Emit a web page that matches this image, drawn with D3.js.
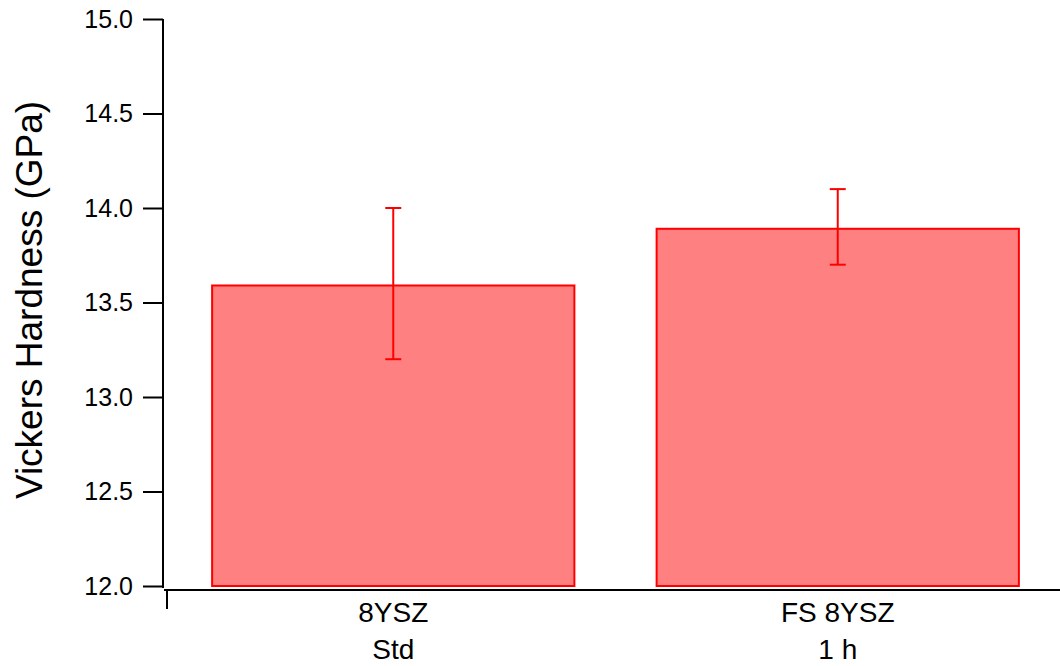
<!DOCTYPE html>
<html>
<head>
<meta charset="utf-8">
<script src="https://cdn.jsdelivr.net/npm/d3@7"></script>
<style>
  html, body { margin: 0; padding: 0; background: #fff; }
  svg { display: block; font-family: "Liberation Sans", Arial, sans-serif; }
</style>
</head>
<body>
<svg id="chart" width="1060" height="666"></svg>
<script>
// Vickers hardness of the two zirconia samples
const categories = ["8YSZ|Std", "FS 8YSZ|1 h"];
const hardness = [13.59, 13.89];
const errLow = [13.2, 13.7];
const errHigh = [14.0, 14.1];
const yTicks = [12.0, 12.5, 13.0, 13.5, 14.0, 14.5, 15.0];

const svg = d3.select("#chart");

const y = d3.scaleLinear().domain([12, 15]).range([586, 19]);
const x = d3.scaleBand()
  .domain(categories)
  .range([171, 1060])
  .paddingInner(0.185)
  .paddingOuter(0.0925);

// bars
svg.append("g").selectAll("rect")
  .data(categories)
  .join("rect")
  .attr("x", d => x(d))
  .attr("width", x.bandwidth())
  .attr("y", (d, i) => y(hardness[i]))
  .attr("height", (d, i) => y(12) - y(hardness[i]))
  .attr("fill", "#ff8080")
  .attr("stroke", "#ff0000")
  .attr("stroke-width", 2);

// error bars
const eb = svg.append("g").attr("stroke", "#ff0000").attr("stroke-width", 2);
categories.forEach((c, i) => {
  const cx = x(c) + x.bandwidth() / 2;
  eb.append("line").attr("x1", cx).attr("x2", cx)
    .attr("y1", y(errLow[i])).attr("y2", y(errHigh[i]));
  [errLow[i], errHigh[i]].forEach(v => {
    eb.append("line").attr("x1", cx - 8).attr("x2", cx + 8)
      .attr("y1", y(v)).attr("y2", y(v));
  });
});

// y axis
const yAxis = svg.append("g")
  .attr("transform", "translate(163,0)")
  .call(d3.axisLeft(y).tickValues(yTicks).tickFormat(d3.format(".1f"))
    .tickSize(20).tickSizeOuter(0).tickPadding(10));
yAxis.select(".domain").attr("stroke-width", 2).attr("d", "M0,588V19");
yAxis.selectAll(".tick line").attr("stroke-width", 2);
yAxis.selectAll(".tick text")
  .attr("font-size", 25).attr("fill", "#000")
  .attr("font-family", "Liberation Sans, Arial, sans-serif");

// x axis line with its left tick
svg.append("line").attr("x1", 164).attr("x2", 1060).attr("y1", 590).attr("y2", 590)
  .attr("stroke", "#000").attr("stroke-width", 2);
svg.append("line").attr("x1", 167).attr("x2", 167).attr("y1", 590).attr("y2", 609)
  .attr("stroke", "#000").attr("stroke-width", 2);

// category labels (two lines each)
const lab = svg.append("g").selectAll("text")
  .data(categories)
  .join("text")
  .attr("text-anchor", "middle")
  .attr("font-size", 28)
  .attr("fill", "#000");
lab.each(function(d) {
  const parts = d.split("|");
  const cx = x(d) + x.bandwidth() / 2;
  const t = d3.select(this);
  t.append("tspan").attr("x", cx).attr("y", 622).text(parts[0]);
  t.append("tspan").attr("x", cx).attr("y", 659).text(parts[1]);
});

// y axis title
svg.append("text")
  .attr("transform", "translate(42,300) rotate(-90)")
  .attr("text-anchor", "middle")
  .attr("font-size", 37)
  .attr("fill", "#000")
  .text("Vickers Hardness (GPa)");
</script>
</body>
</html>
